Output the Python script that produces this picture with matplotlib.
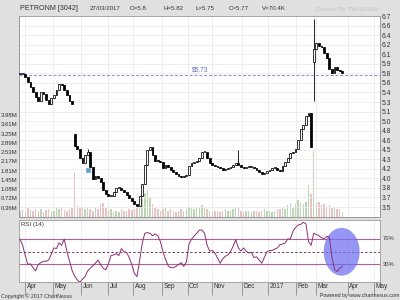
import numpy as np
import matplotlib
matplotlib.use("Agg")
import matplotlib.pyplot as plt
from matplotlib.patches import Ellipse
import matplotlib.transforms as mtransforms

plt.rcParams['font.family'] = ['Liberation Sans', 'DejaVu Sans']

# ---------------- data (one candle per 2 trading sessions) ----------------
closes = [5.75, 5.75, 5.70, 5.62, 5.54, 5.45, 5.37, 5.30, 5.44, 5.42, 5.32, 5.25, 5.34, 5.39, 5.49, 5.59, 5.57, 5.49, 5.40, 5.30, 5.24,
          4.55, 4.49, 4.35, 4.25, 4.39, 4.44, 4.19, 3.99, 4.04, 4.00,
          3.94, 3.80, 3.74, 3.70, 3.70, 3.77, 3.84, 3.84, 3.80, 3.77,
          3.72, 3.67, 3.62, 3.57, 3.54, 3.70, 3.90, 4.22, 4.47, 4.52,
          4.39, 4.30, 4.29, 4.27, 4.17, 4.22, 4.19, 4.14, 4.10, 4.07,
          4.04, 4.02, 4.04, 4.05, 4.20, 4.25, 4.27, 4.30, 4.35, 4.44,
          4.45, 4.34, 4.25, 4.22, 4.20, 4.19, 4.17, 4.14, 4.15, 4.17,
          4.19, 4.22, 4.25, 4.22, 4.19, 4.17, 4.19, 4.19, 4.19, 4.17,
          4.14, 4.10, 4.07, 4.09, 4.12, 4.14, 4.17, 4.17, 4.14, 4.12,
          4.20, 4.27, 4.34, 4.42, 4.44, 4.49, 4.64, 4.82, 4.90, 5.04,
          5.10, 4.52,
          6.17, 6.27, 6.22, 6.20, 6.10, 6.02, 5.84, 5.77, 5.87, 5.82, 5.80, 5.77]
open_override = {21: 4.75, 113: 5.95}
high_override = {26: 4.50, 84: 4.47, 113: 6.67}
low_override = {113: 5.30}

volumes_m = [0.25, 0.3, 0.2, 0.35, 0.28, 0.22, 0.3, 0.25, 0.32, 0.2, 0.28, 0.3, 0.22, 0.25, 0.35, 0.3, 0.4, 0.28, 0.25, 0.3, 0.35,
             1.75, 0.45, 0.4, 0.35, 0.3, 0.4, 0.3, 0.25, 0.35, 0.3,
             0.5, 0.55, 0.35, 0.25, 0.3, 0.2, 0.25, 0.2, 0.3, 0.22,
             0.25, 0.3, 0.28, 0.32, 0.35, 0.45, 0.7, 0.95, 1.05, 0.8,
             0.5, 0.35, 0.3, 0.25, 0.3, 0.35, 0.25, 0.3, 0.22, 0.2,
             0.25, 0.3, 0.22, 0.3, 0.4, 0.35, 0.3, 0.35, 0.4, 0.45,
             0.35, 0.3, 0.25, 0.2, 0.22, 0.25, 0.2, 0.25, 0.3, 0.22,
             0.25, 0.3, 0.35, 0.4, 0.25, 0.2, 0.22, 0.25, 0.2, 0.22,
             0.25, 0.2, 0.25, 0.3, 0.22, 0.25, 0.2, 0.25, 0.3, 0.3,
             0.35, 0.3, 0.45, 0.55, 0.4, 0.5, 0.65, 0.55, 0.5, 0.6,
             1.25, 0.9,
             2.6, 0.55, 0.6, 0.45, 0.5, 0.4, 0.45, 0.35, 0.4, 0.3, 0.3, 0.2]

rsi = [70, 60, 44, 30, 31, 25, 20, 30, 33, 35, 35, 37, 46, 56, 55, 64, 60, 70, 51, 36, 21,
       12, 6, 2, 7, 11, 20, 24, 28, 32, 37,
       30, 24, 22, 31, 44, 45, 47, 44, 55, 50,
       49, 41, 30, 16, 11, 36, 63, 79, 80, 79,
       75, 78, 75, 66, 50, 38, 28, 25, 25, 27,
       30, 33, 27, 34, 62, 70, 75, 79, 84, 84,
       79, 60, 51, 52, 48, 40, 32, 39, 43, 45,
       50, 59, 69, 56, 51, 56, 51, 48, 49, 41,
       42, 37, 32, 41, 50, 52, 52, 54, 56, 61,
       62, 64, 70, 70, 82, 88, 92, 93, 96, 94,
       66, 60,
       79, 77, 75, 72, 70, 74, 73, 42, 22, 19, 24, 27]

event_candles = [26]
ref_price = 5.73

month_labels = ['Apr', 'May', 'Jun', 'Jul', 'Aug', 'Sep', 'Oct', 'Nov', 'Dec', '2017', 'Feb', 'Mar', 'Apr', 'May']
month_sessions = [4, 25, 47, 68, 87, 109, 129, 148, 171, 191, 212, 228, 252, 272]

price_ticks = [3.52 + 0.16 * k for k in range(21)]
vol_tick_labels = ['0.36M', '0.72M', '1.08M', '1.45M', '1.81M', '2.17M', '2.53M', '2.89M', '3.25M', '3.61M', '3.98M']
vol_ticks = [0.3614 * (k + 1) for k in range(11)]

header = [('PETRONM [3042]', 20, 5.1), ('27/03/2017', 90, 4.4), ('O=5.8', 130, 4.4), ('H=5.82', 163, 4.4),
          ('L=5.75', 196, 4.4), ('C=5.77', 229, 4.4), ('V=70.4K', 262, 4.4)]

# ---------------- derived ----------------
c = np.array(closes)
o = np.r_[c[0], c[:-1]]
for k, v in open_override.items():
    o[k] = v
hi = np.maximum(o, c)
lo = np.minimum(o, c)
for k, v in high_override.items():
    hi[k] = v
for k, v in low_override.items():
    lo[k] = v
days = np.arange(len(c)) * 2
up = c >= o

# ---------------- figure ----------------
W, H = 400, 300
fig = plt.figure(figsize=(4, 3), dpi=100, facecolor='#e0e0e0')


def rect(l, t, r, b):
    return [l / W, 1 - b / H, (r - l) / W, (b - t) / H]


axv = fig.add_axes(rect(19, 16, 380, 217))
ax = axv.twinx()
ax.set_zorder(axv.get_zorder() + 1)
ax.patch.set_visible(False)
axv.set_facecolor('white')
rax = fig.add_axes(rect(19, 220, 380, 282), sharex=axv)
rax.set_facecolor('white')

spine_col = '#9a9a9a'
for a in (ax, axv, rax):
    for s in a.spines.values():
        s.set_color(spine_col)
        s.set_linewidth(0.6)

# volume
vcol = np.where(up, '#bcd6b4', '#e6c2c2')
axv.bar(days, volumes_m, width=1.1, color=vcol, linewidth=0, zorder=2)
axv.set_ylim(0, 7.845)
axv.set_yticks(vol_ticks)
axv.set_yticklabels(vol_tick_labels)
axv.yaxis.tick_left()
axv.tick_params(axis='y', length=0, pad=1, labelsize=4.3, labelcolor='#333333')
axv.set_xticks(month_sessions)
axv.grid(axis='x', color='#ebebeb', lw=0.6, zorder=0)
axv.tick_params(axis='x', length=0, labelbottom=False)

# price grid + candles
ax.set_ylim(3.353, 6.722)
ax.set_yticks(price_ticks)
ax.set_yticklabels(['%.1f' % v for v in price_ticks])
ax.yaxis.tick_right()
ax.tick_params(axis='y', length=0, pad=1.5, labelsize=4.9, labelcolor='#333333')
ax.grid(axis='y', color='#ebebeb', lw=0.6, zorder=0)
ax.set_axisbelow(True)

ax.vlines(days, lo, hi, color='black', lw=0.6, zorder=3)
ax.bar(days, np.maximum(np.abs(c - o), 0.014), bottom=np.minimum(o, c), width=1.4,
       color=np.where(up, 'white', 'black'), edgecolor='black', linewidth=0.55, zorder=4)

for k in event_candles:
    ax.plot(days[k], c[k] - 0.3, marker='s', ms=2.8, color='#5fa8d3', mec='#4a90c0', mew=0.4, zorder=5)

ax.axhline(ref_price, color='#8a8ad6', lw=0.7, ls=(0, (3, 2)), zorder=2)
ax.text(0.479, ref_price + 0.02, '$%.2f' % ref_price, transform=ax.get_yaxis_transform(),
        fontsize=4.8, color='#6a6ac8', va='bottom', ha='left')

ax.set_xlim(-0.8, 277)

# RSI panel
rax.set_ylim(2.55, 99.8)
rax.set_yticks([])
for lvl in (70, 30):
    rax.axhline(lvl, color='#b0609a', lw=0.8, zorder=2)
rax.axhline(50, color='#7a3a6a', lw=0.7, ls=(0, (2.5, 2)), zorder=2)
rax.plot(days, rsi, color='#8b2f75', lw=0.7, zorder=4)
rax.add_patch(Ellipse((days[-1] - 0.5, 50), 27.7, 75, facecolor='#6e6ef0', edgecolor='none',
                      alpha=0.72, zorder=3))
rax.text(0.005, 0.97, 'RSI (14)', transform=rax.transAxes, fontsize=4.4, color='#333333', va='top', ha='left')
for lvl in (70, 30):
    rax.text(1.008, lvl, '%d%%' % lvl, transform=rax.get_yaxis_transform(), fontsize=4.2,
             color='#333333', va='center', ha='left')

rax.set_xticks(month_sessions)
rax.set_xticklabels([])
rax.grid(axis='x', color='#ebebeb', lw=0.6, zorder=0)
rax.tick_params(axis='x', length=9, width=0.6, color='#8a8a8a', direction='out')
off = mtransforms.offset_copy(rax.get_xaxis_transform(), fig=fig, x=1.5, y=-1.5, units='dots')
for d, lab in zip(month_sessions, month_labels):
    rax.text(d, 0, lab, transform=off, fontsize=4.7, color='#333333', va='top', ha='left')

# header and footer texts
for txt, x, fs in header:
    fig.text(x / W, 1 - 9 / H, txt, fontsize=fs, color='#333333', va='center', ha='left')
fig.text(315 / W, 1 - 9 / H, 'Charted By TWHUISHI', fontsize=4.4, color='#c4c4c4', va='center', ha='left')
fig.text(1 / W, 1 - 296 / H, 'Copyright \u00a9 2017 ChartNexus', fontsize=3.8, color='#333333', va='center', ha='left')
fig.text(399 / W, 1 - 296 / H, 'Powered by www.chartnexus.com', fontsize=3.8, color='#333333', va='center', ha='right')

fig.savefig('out.png', dpi=100, facecolor=fig.get_facecolor())
